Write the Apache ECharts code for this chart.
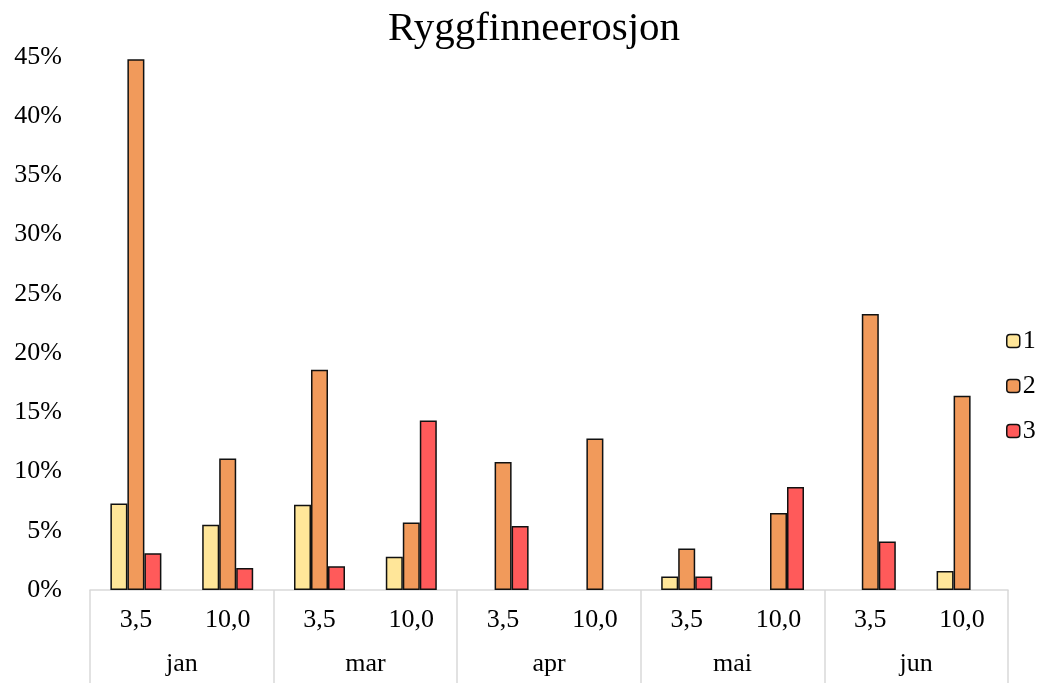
<!DOCTYPE html>
<html>
<head>
<meta charset="utf-8">
<script src="https://cdn.jsdelivr.net/npm/echarts@6/dist/echarts.min.js"></script>
<style>
  html, body { margin: 0; padding: 0; background: #fff; }
  #chart { width: 1038px; height: 683px; }
</style>
</head>
<body>
<div id="chart"></div>
<script>
// data
const months = ['jan', 'mar', 'apr', 'mai', 'jun'];
const doses = ['3,5', '10,0', '3,5', '10,0', '3,5', '10,0', '3,5', '10,0', '3,5', '10,0'];
const yTicks = { min: 0, max: 45, interval: 5 };

const score1 = [7.3, 5.5, 7.2, 2.8, null, null, 1.15, null, null, 1.6];
const score2 = [44.8, 11.1, 18.6, 5.7, 10.8, 12.8, 3.5, 6.5, 23.3, 16.4];
const score3 = [3.1, 1.85, 2.0, 14.3, 5.4, null, 1.15, 8.7, 4.1, null];

const seriesNames = ['1', '2', '3'];
const colors = ['#FFE699', '#F19A5B', '#FF5A5A'];

const font = 'Liberation Serif';
const chart = echarts.init(document.getElementById('chart'));

function barSeries(name, data, color) {
  return {
    name: name,
    type: 'bar',
    data: data,
    barWidth: 17,
    barGap: '0%',
    itemStyle: { color: color, borderColor: '#111', borderWidth: 1.5 }
  };
}

const option = {
  animation: false,
  title: {
    text: 'Ryggfinneerosjon',
    left: 529,
    textAlign: 'center',
    top: 4,
    textStyle: { fontFamily: font, fontSize: 41, fontWeight: 'normal', color: '#000' }
  },
  legend: {
    orient: 'vertical',
    left: 1001,
    top: 323,
    itemWidth: 13,
    itemHeight: 13,
    itemGap: 19,
    data: seriesNames,
    textStyle: { fontFamily: font, fontSize: 26, color: '#000', padding: [0, 0, 0, -2] },
    itemStyle: { borderColor: '#111', borderWidth: 1.5 }
  },
  grid: { left: 90, right: 30, top: 57, bottom: 93, containLabel: false },
  xAxis: [
    {
      type: 'category',
      data: doses,
      position: 'bottom',
      axisLine: { show: true, lineStyle: { color: '#d9d9d9', width: 1.5 } },
      axisTick: { show: false },
      axisLabel: { interval: 0, margin: 17, fontFamily: font, fontSize: 26, color: '#000' }
    },
    {
      type: 'category',
      data: months,
      position: 'bottom',
      axisLine: { show: false },
      axisTick: { show: true, length: 93, lineStyle: { color: '#d9d9d9', width: 1.5 } },
      axisLabel: { interval: 0, margin: 61, fontFamily: font, fontSize: 26, color: '#000' }
    }
  ],
  yAxis: {
    type: 'value',
    min: yTicks.min,
    max: yTicks.max,
    interval: yTicks.interval,
    axisLine: { show: false },
    axisTick: { show: false },
    splitLine: { show: false },
    axisLabel: {
      margin: 28,
      formatter: '{value}%',
      fontFamily: font,
      fontSize: 26,
      color: '#000'
    }
  },
  series: [
    barSeries(seriesNames[0], score1, colors[0]),
    barSeries(seriesNames[1], score2, colors[1]),
    barSeries(seriesNames[2], score3, colors[2])
  ]
};

chart.setOption(option);
</script>
</body>
</html>
